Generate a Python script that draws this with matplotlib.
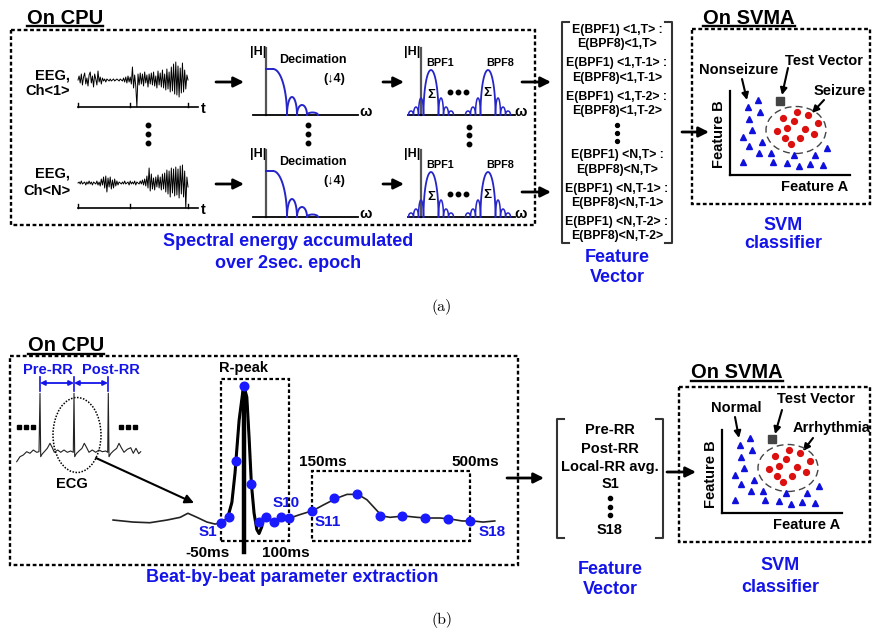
import numpy as np
import matplotlib
matplotlib.use("Agg")
import matplotlib.pyplot as plt
from matplotlib.patches import Rectangle, Ellipse

plt.rcParams['font.family'] = ['Liberation Sans', 'DejaVu Sans']

# ---------------------------------------------------------------- data
# EEG traces over a 2 s epoch (amplitude, arbitrary units)
eeg_ch1 = [0, 4, -3, 6, -5, 3, 7, -4, 2, -6,
           5, 8, -3, 4, -7, 6, 1, -5, 9, -2,
           3, -4, 2, -1, 1, -2, 1, 0, -1, 1,
           -1, 0, 1, -1, 0, 1, 0, -1, 1, 0,
           -1, 2, -2, 3, -3, 4, -2, 3, -4, 13,
           -8, 5, -6, -27, 6, -5, 7, -4, 6, -6,
           8, -3, 5, -7, 6, -4, 7, -5, 8, -6,
           4, -8, 9, -5, 7, -7, 10, -8, 6, -10,
           11, -9, 8, -12, 13, -11, 16, -14, 18, -15,
           14, -17, 12, -13, 17, -12, 10, -9, 5, 0]
eeg_chN = [0, 1, -1, 2, -1, 0, 1, -2, 1, -1,
           2, -1, 1, -2, 1, 0, -1, 2, -2, 1,
           -3, 4, -2, 6, -5, 7, -9, 5, -4, 6,
           -6, 3, -5, 4, -3, 2, -2, 1, 0, -1,
           1, -1, 2, -1, 0, 1, -2, 2, -1, 1,
           -1, 2, -2, 1, 0, -1, 2, -1, 3, -2,
           4, -3, 7, -5, 15, -8, 9, -6, 5, -7,
           6, -4, 8, -5, 6, -7, 9, -6, 10, -9,
           13, -11, 12, -14, 15, -10, 14, -13, 16, -12,
           14, -15, 17, -11, 18, -14, 12, -25, 6, -4]
eeg_epoch_s = 2.0
eeg_ticks_s = [0, 0.95, 2]

# Decimation filter |H| (omega units)
dec_flat_end = 7
dec_main_end = 21
dec_gain = 46
dec_side_start = [21, 31, 41]
dec_side_end = [31, 41, 52]
dec_side_gain = [18, 10, 2.5]

# Band-pass filters BPF1 ... BPF8
bpf_names = ['BPF1', 'BPF8']
bpf_centers = [10, 67]
bpf_main_width = 15
bpf_main_gain = 45
bpf_side_width = 5
bpf_side_gain = [17, 8, 4]

# Feature vectors
fv_eeg_top = ['E(BPF1) <1,T> :', 'E(BPF8)<1,T>',
              'E(BPF1) <1,T-1> :', 'E(BPF8)<1,T-1>',
              'E(BPF1) <1,T-2> :', 'E(BPF8)<1,T-2>']
fv_eeg_bot = ['E(BPF1) <N,T> :', 'E(BPF8)<N,T>',
              'E(BPF1) <N,T-1> :', 'E(BPF8)<N,T-1>',
              'E(BPF1) <N,T-2> :', 'E(BPF8)<N,T-2>']
fv_ecg_top = ['Pre-RR', 'Post-RR', 'Local-RR avg.', 'S1']
fv_ecg_bot = ['S18']

# Feature space (Feature A, Feature B)
tri_a = [1.8, 2.8, 1.9, 3.0, 2.2, 1.3, 3.2, 1.9, 2.9, 4.1, 6.4, 8.5, 9.7,
         1.3, 4.3, 5.7, 6.9, 8.0, 9.3]
tri_b = [6.8, 7.5, 5.6, 6.3, 4.5, 3.8, 3.3, 2.9, 2.2, 2.2, 2.0, 2.0, 2.7,
         1.3, 1.3, 1.2, 0.9, 1.1, 1.0]
circ_a = [5.3, 6.7, 7.8, 6.4, 8.8, 4.7, 5.7, 7.5, 8.4, 5.5, 7.0, 6.1]
circ_b = [5.7, 6.3, 6.0, 5.4, 5.2, 4.4, 4.7, 4.6, 4.1, 3.7, 3.7, 3.1]
test_a, test_b = 5.0, 7.4
cluster_a, cluster_b, cluster_w, cluster_h = 6.6, 4.5, 6.0, 4.7

# ECG beat (time in ms relative to R-peak, amplitude normalised)
ecg_t = [-288, -244, -207, -169, -140, -123, -103, -81, -63, -50,
         -35, -26, -19, -17, -10, -1.5, 0, 7, 12, 17,
         23, 29, 34, 40, 43, 50, 58, 67, 85, 102,
         124, 153, 175, 204, 228, 252, 272, 305, 323, 354,
         382, 404, 433, 457, 482, 506, 528, 554]
ecg_v = [0.0, -0.015, -0.02, 0.0, 0.02, 0.05, 0.02, -0.015, -0.03, -0.02,
         0.02, 0.13, 0.35, 0.44, 0.74, 0.96, 1.0, 0.91, 0.61, 0.27,
         0.05, -0.07, -0.10, -0.05, 0.015, 0.02, 0.0, -0.02, 0.015, 0.015,
         0.04, 0.07, 0.11, 0.16, 0.19, 0.19, 0.15, 0.03, 0.02, 0.03,
         0.02, 0.015, 0.015, 0.007, -0.007, -0.007, -0.015, -0.007]
sample_t = [-50, -33, -17, 0, 17, 33, 50, 67, 83, 100,
            150, 200, 250, 300, 350, 400, 450, 500]
sample_v = [-0.02, 0.02, 0.44, 0.99, 0.27, -0.015, 0.02, -0.015, 0.02, 0.015,
            0.07, 0.16, 0.19, 0.03, 0.03, 0.015, 0.007, -0.007]
window_start = [-50, 150]
window_end = [100, 500]
window_top = [1.044, 0.363]
window_bottom = -0.156

# ECG strip (three beats)
ecg_strip_x = [6.7, 10, 13.3, 16.7, 20, 23.3, 26.7, 29, 30, 30.7, 32, 34.3, 37.3,
               40, 42.3, 44.3, 47.7, 50.7, 54, 57.3, 60.7, 63.3, 64, 64.7, 66.3,
               69, 72, 74.3, 76.7, 79, 82.3, 85.7, 89, 92.3, 95.7, 97.7, 98.3,
               99, 100.7, 103.3, 106.7, 109, 111.3, 114, 117.3, 120.7, 123.3,
               126, 128.7, 130.7]
ecg_strip_y = [8.3, 13.3, 15, 18.3, 16.7, 20, 17.7, 18.3, 76.7, 13.3, 15.7, 18.3,
               21.7, 26.7, 22.3, 17.7, 20, 17.7, 20, 17.7, 19, 17.7, 76.7, 13.3,
               16.3, 19, 21.7, 26.7, 22.3, 17.7, 20, 17.7, 20, 18.3, 19, 17.7,
               76.7, 13.3, 16.3, 19, 21.7, 26.7, 22.3, 17.7, 20.7, 22.3, 16.7,
               21.7, 16.3, 18.3]

# ---------------------------------------------------------------- canvas
W, H = 873, 632
fig = plt.figure(figsize=(W / 100, H / 100), dpi=100)
ax = fig.add_axes([0, 0, 1, 1])
ax.set_xlim(0, W)
ax.set_ylim(H, 0)
ax.axis('off')

BLUE = '#1414e8'
CURVE = '#2525c8'
DOT = '#1a1aff'


def txt(x, y, s, size=10, color='k', ha='center', va='center', weight='bold', **kw):
    return ax.text(x, y, s, fontsize=size, color=color, ha=ha, va=va,
                   fontweight=weight, **kw)


def title_ul(x, y_base, s):
    t = txt(x, y_base, s, size=14.5, va='baseline')
    r = fig.canvas.get_renderer()
    bb = t.get_window_extent(renderer=r).transformed(ax.transData.inverted())
    ax.plot([bb.x0, bb.x1], [y_base + 2.5, y_base + 2.5], color='k', lw=1.7)


def dbox(x0, y0, x1, y1, lw=1.7):
    ax.add_patch(Rectangle((x0, y0), x1 - x0, y1 - y0, fill=False,
                           ls=(0, (1.6, 1.1)), lw=lw, ec='k'))


def arrow(x0, y0, x1, y1, lw=2.0, ms=15, color='k', style='-|>'):
    ax.annotate('', xy=(x1, y1), xytext=(x0, y0),
                arrowprops=dict(arrowstyle=style, lw=lw, color=color,
                                mutation_scale=ms, shrinkA=0, shrinkB=0))


def bracket(x0, y0, x1, y1, s=7):
    ax.plot([x0 + s, x0, x0, x0 + s], [y0, y0, y1, y1], color='#333333', lw=1.5)
    ax.plot([x1 - s, x1, x1, x1 - s], [y0, y0, y1, y1], color='#333333', lw=1.5)


def vdots(x, ys, ms=3.2):
    ax.plot([x] * len(ys), ys, 'o', color='k', ms=ms)


def inset(x0, y0, x1, y1, xlim, ylim):
    a = fig.add_axes([x0 / W, 1 - y1 / H, (x1 - x0) / W, (y1 - y0) / H])
    a.set_xlim(*xlim)
    a.set_ylim(*ylim)
    a.axis('off')
    a.patch.set_alpha(0)
    return a


def arch(a, c, w, h, **kw):
    th = np.linspace(0, np.pi, 40)
    a.plot(c - w / 2 * np.cos(th), h * np.sin(th), **kw)


# ---------------------------------------------------------------- panel (a)
title_ul(65, 23.5, 'On CPU')
dbox(11, 30, 535, 225)

for row, (sig, lab) in enumerate([(eeg_ch1, 'Ch<1>'), (eeg_chN, 'Ch<N>')]):
    yb = 80 if row == 0 else 183
    axis_lvl = -27 if row == 0 else -25
    txt(70, yb - 4 if row == 0 else yb - 10, 'EEG,', size=10.5, ha='right')
    txt(70, yb + 11 if row == 0 else yb + 8, lab, size=10.5, ha='right')
    e = inset(70, yb - 30, 210, yb + 35, (-8 / 55, 132 / 55), (-35, 30))
    tt = np.linspace(0, eeg_epoch_s, len(sig))
    e.plot(tt, sig, color='k', lw=0.7)
    e.plot([0, 120 / 55], [axis_lvl, axis_lvl], color='k', lw=1.2)
    for tk in eeg_ticks_s:
        e.plot([tk, tk], [axis_lvl, axis_lvl + 4], color='k', lw=1.0)
    txt(203, yb + axis_lvl * -1 + 2, 't', size=10.5)

    # decimation filter
    dy = 0 if row == 0 else 102
    d = inset(250, 45 + dy, 370, 120 + dy, (-16, 104), (-5, 70))
    d.plot([0, 0], [0, 67], color='#555555', lw=1.6)
    d.plot([-13, 92], [0, 0], color='k', lw=1.3)
    d.plot([0, dec_flat_end], [dec_gain, dec_gain], color=CURVE, lw=1.4)
    th = np.linspace(0, np.pi / 2, 40)
    d.plot(dec_flat_end + (dec_main_end - dec_flat_end) * np.sin(th),
           dec_gain * np.cos(th), color=CURVE, lw=1.4)
    for s0, s1, g in zip(dec_side_start, dec_side_end, dec_side_gain):
        arch(d, (s0 + s1) / 2, s1 - s0, g, color=CURVE, lw=1.4)
    txt(258, 52 + dy, '|H|', size=9)
    txt(313, 60 + dy, 'Decimation', size=9)
    txt(334, 79 + dy, '(↓4)', size=9)
    txt(366, 112 + dy, 'ω', size=10.5)

    # band-pass filter bank
    b = inset(405, 45 + dy, 530, 120 + dy, (-16, 109), (-5, 70))
    b.plot([0, 0], [0, 67], color='#555555', lw=1.6)
    b.plot([-13, 94], [0, 0], color='k', lw=1.3)
    for c in bpf_centers:
        arch(b, c, bpf_main_width, bpf_main_gain, color=CURVE, lw=1.3)
        for k, g in enumerate(bpf_side_gain):
            off = bpf_main_width / 2 + bpf_side_width * (k + 0.5)
            arch(b, c - off, bpf_side_width, g, color=CURVE, lw=1.1)
            arch(b, c + off, bpf_side_width, g, color=CURVE, lw=1.1)
    txt(412, 52 + dy, '|H|', size=9)
    txt(440, 63 + dy, bpf_names[0], size=7.8)
    txt(500, 63 + dy, bpf_names[1], size=7.8)
    txt(431, 95 + dy, 'Σ', size=9.5)
    txt(487, 93 + dy, 'Σ', size=9.5)
    ax.plot([450, 458, 466], [92 + dy] * 3, 'o', color='k', ms=3.2)
    txt(521, 112 + dy, 'ω', size=10.5)

    arrow(216, 82 + dy, 244, 82 + dy)
    arrow(383, 82 + dy, 404, 82 + dy)

arrow(522, 82, 551, 82)
arrow(522, 192, 551, 192)
vdots(148, [125, 134, 143])
vdots(308, [125, 134, 143])
vdots(469, [127, 135, 144])

txt(288, 242, 'Spectral energy accumulated', size=13, color=BLUE)
txt(288, 263, 'over 2sec. epoch', size=13, color=BLUE)

# feature vector (a)
bracket(562, 22, 672, 243)
for s, y in zip(fv_eeg_top, [30, 44, 63, 78, 97, 111]):
    txt(617, y, s, size=8.8)
vdots(617, [125, 133, 141], ms=2.8)
for s, y in zip(fv_eeg_bot, [155, 170, 189, 203, 222, 236]):
    txt(617, y, s, size=8.8)
txt(617, 258, 'Feature', size=13, color=BLUE)
txt(617, 278, 'Vector', size=13, color=BLUE)
arrow(682, 132, 709, 132)


def feature_space(x0, y0, x1, y1, xmax, ymax):
    f = inset(x0, y0, x1, y1, (0, xmax), (0, ymax))
    f.axis('on')
    for sp in ['top', 'right']:
        f.spines[sp].set_visible(False)
    for sp in ['left', 'bottom']:
        f.spines[sp].set_linewidth(1.6)
    f.set_xticks([])
    f.set_yticks([])
    f.plot(tri_a, tri_b, '^', color='#1010dd', ms=4.6, clip_on=False)
    f.plot(circ_a, circ_b, 'o', color='#dd1010', ms=4.2, clip_on=False)
    f.plot([test_a], [test_b], 's', color='#444444', ms=5.2, clip_on=False)
    f.add_patch(Ellipse((cluster_a, cluster_b), cluster_w, cluster_h, fill=False,
                        ls=(0, (5, 3)), lw=1.0, ec='#444444'))
    return f


# SVMA (a)
title_ul(749, 23.5, 'On SVMA')
dbox(692, 29, 870, 204)
feature_space(730, 91, 850, 175, 12, 8.4)
txt(719, 134, 'Feature B', size=10.5, rotation=90)
txt(815, 187, 'Feature A', size=10.5)
txt(739, 70, 'Nonseizure', size=10.5)
arrow(742, 79, 747, 100, lw=1.5, ms=10)
txt(824, 61, 'Test Vector', size=10.5)
arrow(788, 68, 782, 95, lw=1.5, ms=10)
txt(840, 91, 'Seizure', size=10.5)
arrow(824, 100, 812, 113, lw=1.5, ms=10)
txt(783, 226, 'SVM', size=13, color=BLUE)
txt(783, 244, 'classifier', size=13, color=BLUE)

txt(442, 307, '(a)', size=11.5, weight='normal', family='cmr10')

# ---------------------------------------------------------------- panel (b)
title_ul(66, 351, 'On CPU')
dbox(10, 356, 518, 565)

# ECG strip
txt(48, 370, 'Pre-RR', size=10.5, color=BLUE)
txt(111, 370, 'Post-RR', size=10.5, color=BLUE)
arrow(40, 383, 74, 383, lw=1.3, ms=7, color=BLUE, style='<|-|>')
arrow(74, 383, 108, 383, lw=1.3, ms=7, color=BLUE, style='<|-|>')
for xx in [40, 74, 108]:
    ax.plot([xx, xx], [377, 391], color=BLUE, lw=1.2)
es = inset(10, 380, 150, 470, (0, 140), (0, 90))
es.plot(ecg_strip_x, ecg_strip_y, color='#222222', lw=0.8)
ax.plot([19, 26, 33], [427] * 3, 's', color='k', ms=2.2)
ax.plot([121, 128, 135], [427] * 3, 's', color='k', ms=2.2)
ax.add_patch(Ellipse((77, 435), 48, 75, fill=False, ls=(0, (1, 1)), lw=1.1, ec='k'))
txt(72, 484, 'ECG', size=10.5)
arrow(96, 458, 194, 503, lw=1.5, ms=13)

# ECG beat
eb = inset(100, 370, 500, 560, (-316.9, 565.5), (-0.296, 1.111))
eb.plot(ecg_t, ecg_v, color='#222222', lw=1.2)
eb.plot(ecg_t[10:25], ecg_v[10:25], color='k', lw=2.2)
eb.plot([0, 0], [1.0, -0.237], color='k', lw=3.2)
for t0, t1, top in zip(window_start, window_end, window_top):
    eb.add_patch(Rectangle((t0, window_bottom), t1 - t0, top - window_bottom,
                           fill=False, ls=(0, (1.6, 1.1)), lw=1.6, ec='k'))
eb.plot(sample_t, sample_v, 'o', color=DOT, ms=6.2, clip_on=False)

txt(243, 368, 'R-peak', size=10.5)
txt(208, 532, 'S1', size=11, color=BLUE)
txt(286, 503, 'S10', size=11, color=BLUE)
txt(328, 522, 'S11', size=11, color=BLUE)
txt(492, 532, 'S18', size=11, color=BLUE)
txt(208, 553, '-50ms', size=11)
txt(286, 553, '100ms', size=11)
txt(323, 462, '150ms', size=11)
txt(475, 462, '500ms', size=11)
txt(292, 578, 'Beat-by-beat parameter extraction', size=13, color=BLUE)

# feature vector (b)
arrow(507, 478, 544, 478)
bracket(557, 419, 663, 538)
for s, y in zip(fv_ecg_top, [430, 449, 467, 484]):
    txt(610, y, s, size=10.5)
vdots(610, [498, 507, 515], ms=3)
txt(610, 530, fv_ecg_bot[0], size=10.5)
txt(610, 569, 'Feature', size=13, color=BLUE)
txt(610, 590, 'Vector', size=13, color=BLUE)
arrow(667, 472, 696, 472)

# SVMA (b)
title_ul(737, 378, 'On SVMA')
dbox(679, 387, 870, 542)
feature_space(722, 430, 842, 513, 12, 8.3)
txt(711, 474, 'Feature B', size=10.5, rotation=90)
txt(807, 525, 'Feature A', size=10.5)
txt(736, 408, 'Normal', size=10.5)
arrow(735, 417, 739, 438, lw=1.5, ms=10)
txt(816, 399, 'Test Vector', size=10.5)
arrow(782, 410, 775, 434, lw=1.5, ms=10)
txt(793, 428, 'Arrhythmia', size=10.5, ha='left')
arrow(813, 438, 803, 451, lw=1.5, ms=10)
txt(780, 565, 'SVM', size=13, color=BLUE)
txt(780, 587, 'classifier', size=13, color=BLUE)

txt(442, 620, '(b)', size=11.5, weight='normal', family='cmr10')

fig.savefig('out.png', dpi=100)
